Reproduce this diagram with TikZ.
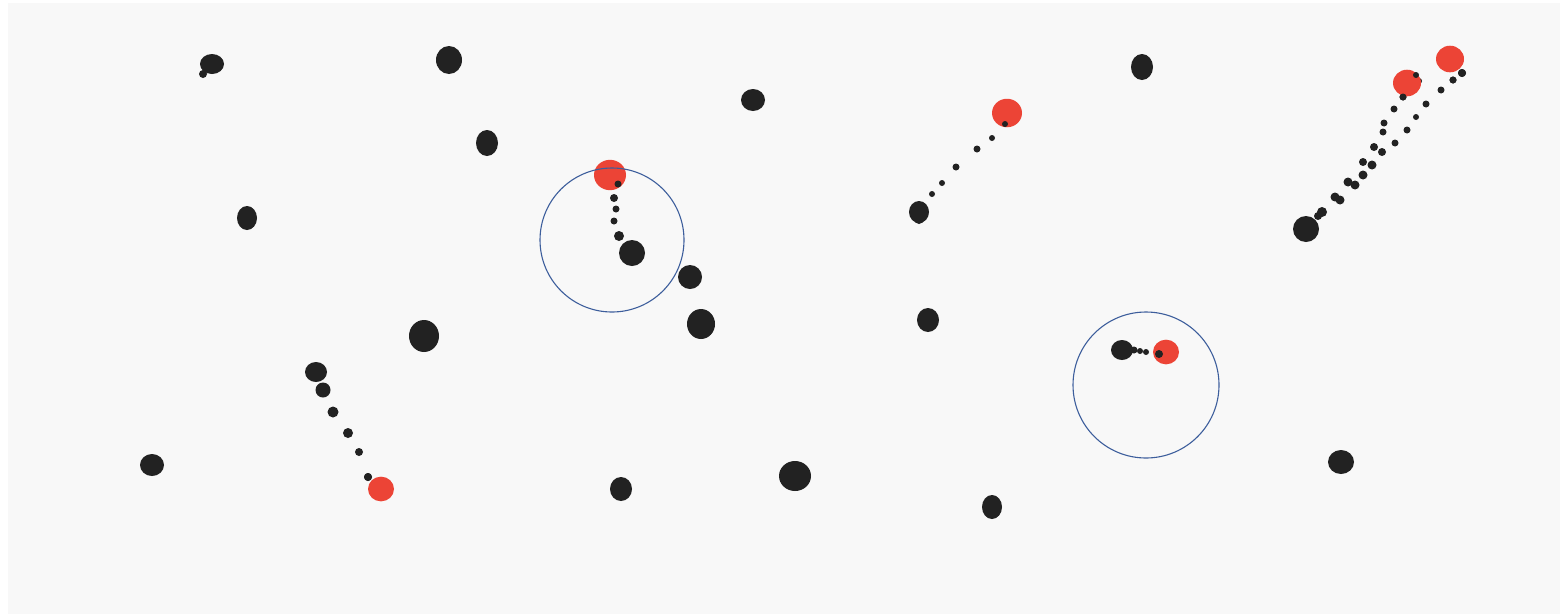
\documentclass[tikz,border=0pt]{standalone}
\definecolor{bg}{HTML}{F8F8F8}
\definecolor{dotblack}{HTML}{222222}
\definecolor{dotred}{HTML}{EC4436}
\definecolor{ringblue}{HTML}{3D5E9C}
\begin{document}
\begin{tikzpicture}[x=1pt,y=-1pt,
  bdot/.style={fill=dotblack},
  rdot/.style={fill=dotred},
  ring/.style={draw=ringblue,line width=1.1pt}]
\useasboundingbox (0,0) rectangle (1560,614);
\fill[white] (0,0) rectangle (1560,614);
\fill[bg] (8,3) rectangle (1560,614);
% trails (small dots)
\foreach \x/\y/\r in {618/183/3.5,614/198/4,616/209/3.5,614/221/3.5,619/236/5,
  1134/350/3.5,1140/351/3,1146/352/3,1159/353/4,
  932/194/3,942/183/3,956/167/3.5,977/149/3.5,992/138/3,1005/124/3,
  323/390/7.5,333/412/5.5,348/433/5,359/452/4,368/477/4,
  1322/212/5,1318/216/4,1335/197/4.5,1340/200/4.5,1348/182/4.5,1355/185/4.5,1363/175/4.5,1372/165/4.5,
  1363/162/4,1374/147/4,1382/152/4,1383/132/3.5,1384/123/3.5,1394/109/3.5,1403/97/3.5,1419/81/3,
  1395/143/3.5,1407/130/3.5,1416/117/3,1426/104/3.5,1441/90/3.5,1453/80/3.5,1462/73/4}
  \fill[bdot] (\x,\y) circle (\r);
% red dots
\foreach \x/\y/\r in {610/175/16,1007/113/15,1407/83/14,1450/59/14,381/489/13,1166/352/13}
  \fill[rdot] (\x,\y) ellipse ({\r} and {\r*0.95});
% dots on top of red edges
\foreach \x/\y/\r in {618/184/3.5,1005/124/3,1159/354/4,1416/75/3,1403/97/3.5,1462/73/4,1453/80/3.5,368/477/4}
  \fill[bdot] (\x,\y) circle (\r);
% black dots
\foreach \x/\y/\a/\b in {449/60/13/14,487/143/11/13,753/100/12/11,247/218/10/12,
  632/253/13/13,690/277/12/12,701/324/14/15,424/336/15/16,928/320/11/12,919/212/10/11,
  1142/67/11/13,1306/229/13/13,1122/350/11/10,316/372/11/10,152/465/12/11,
  621/489/11/12,795/476/16/15,992/507/10/12,1341/462/13/12}
  \fill[bdot] (\x,\y) ellipse (\a pt and \b pt);
\fill[bdot] (212,64) ellipse (12 and 10);
\fill[bdot] (203,74) circle (4);
\fill[bdot] (919,219) circle (5);
% rings
\draw[ring] (612,240) circle (72);
\draw[ring] (1146,385) circle (73);
\end{tikzpicture}
\end{document}
